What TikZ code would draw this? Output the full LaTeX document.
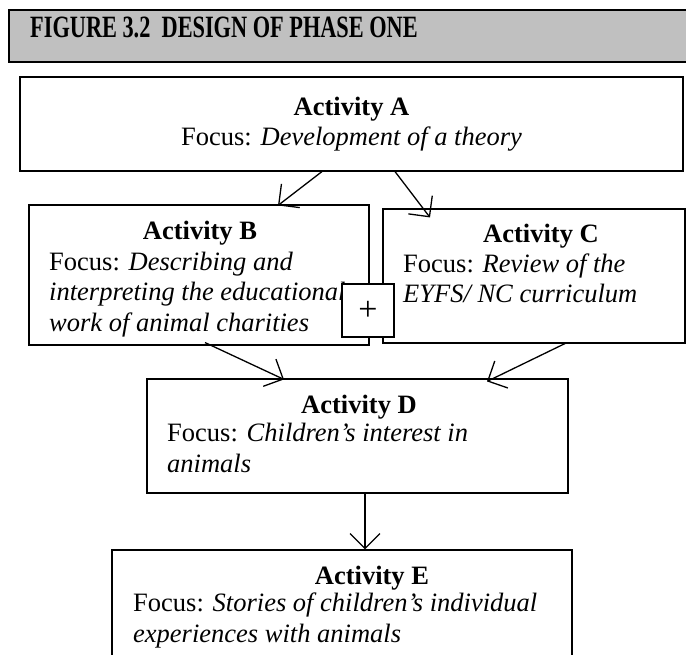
\documentclass[tikz,border=0pt]{standalone}
\usepackage{fontspec}
\setmainfont{Liberation Serif}
\usepackage{xcolor}
\usetikzlibrary{arrows.meta}

\definecolor{headgray}{HTML}{C0C0C0}

\begin{document}
\begin{tikzpicture}[x=1pt,y=-1pt,
    box/.style={draw, line width=1.1pt, inner sep=0pt},
    title/.style={font=\fontsize{26.5}{30.5}\selectfont\bfseries, anchor=base, inner sep=0pt},
    focus/.style={font=\fontsize{26.5}{30.5}\selectfont, anchor=base west, align=left, inner sep=0pt},
    arr/.style={-{Straight Barb[length=15pt,width=30pt]}, line width=1.3pt}]
      \useasboundingbox (0,0) rectangle (686,655);
      \clip (0,0) rectangle (686,655);
      % Heading
      \draw[fill=headgray, line width=2pt] (9,10) rectangle (700,62);
      \node[anchor=base west, inner sep=0pt, font=\fontsize{31}{32}\selectfont\bfseries] (head) at (30,38)
        {\scalebox{0.72}[1]{FIGURE 3.2\ \ DESIGN OF PHASE ONE}};
      % Boxes
      \node[box, minimum width=663pt, minimum height=94pt] (A) at (351.5,124) {};
      \node[box, minimum width=340pt, minimum height=140pt] (B) at (199,275) {};
      \node[box, minimum width=302pt, minimum height=134pt] (C) at (534,276) {};
      \node[box, minimum width=421pt, minimum height=114pt] (D) at (357.5,436) {};
      \node[box, minimum width=460pt, minimum height=140pt] (E) at (342,620) {};
      % Texts (multi-line nodes sit on their last line)
      \node[title] (At) at (351.5,116) {Activity A};
      \node[font=\fontsize{26.5}{30.5}\selectfont, anchor=base, inner sep=0pt] (Af) at (351.5,146)
        {Focus: \textit{Development of a theory}};
      \node[title] (Bt) at (200,240) {Activity B};
      \node[focus] (Bf) at (49,331) {Focus: \textit{Describing and}\\
        \textit{interpreting the educational}\\ \textit{work of animal charities}};
      \node[title] (Ct) at (541,243) {Activity C};
      \node[focus] (Cf) at (403,303) {Focus: \textit{Review of the}\\ \textit{EYFS/ NC curriculum}};
      \node[title] (Dt) at (359,413) {Activity D};
      \node[focus] (Df) at (167,472) {Focus: \textit{Children’s interest in}\\ \textit{animals}};
      \node[title] (Et) at (372,584) {Activity E};
      \node[focus] (Ef) at (133,642) {Focus: \textit{Stories of children’s individual}\\
        \textit{experiences with animals}};
      % Plus marker
      \node[box, fill=white, minimum width=52pt, minimum height=53pt,
        font=\fontsize{34}{36}\selectfont] (plus) at (368,310.5) {+};
      % Arrows
      \draw[arr] ([xshift=-29.5pt]A.south) -- ([xshift=79pt,yshift=-1pt]B.north);
      \draw[arr] ([xshift=43.5pt]A.south) -- ([xshift=-104pt,yshift=-9pt]C.north);
      \draw[arr] ([xshift=6pt,yshift=3pt]B.south) -- ([xshift=-73.5pt,yshift=-1pt]D.north);
      \draw[arr] ([xshift=31pt]C.south) -- ([xshift=129.5pt,yshift=-3pt]D.north);
      \draw[arr] ([xshift=7.5pt]D.south) -- ([xshift=23pt]E.north);
    \end{tikzpicture}
\end{document}
